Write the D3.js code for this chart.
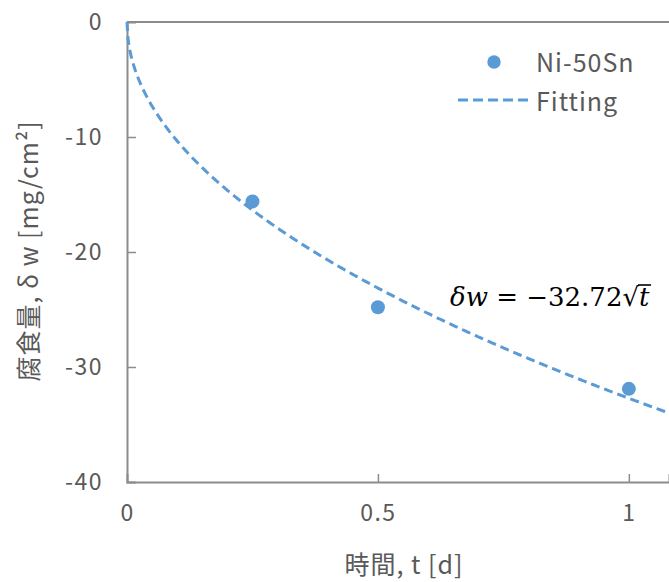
<!DOCTYPE html>
<html>
<head>
<meta charset="utf-8">
<script src="https://cdn.jsdelivr.net/npm/d3@7"></script>
<style>
  html, body { margin: 0; padding: 0; background: #fff; }
  svg { display: block; }
</style>
</head>
<body>
<svg id="chart" width="669" height="582"></svg>
<script>
// Measured corrosion loss of Ni-50Sn
const times = [0.25, 0.5, 1];
const losses = [-15.6, -24.8, -31.9];
// Parabolic fit: δw = k·√t
const fitCoef = -32.72;
const xTicks = [0, 0.5, 1];
const xTickLabels = ["0", "0.5", "1"];
const yTicks = [0, -10, -20, -30, -40];
const yTickLabels = ["0", "-10", "-20", "-30", "-40"];
const seriesNames = ["Ni-50Sn", "Fitting"];

const plotLeft = 127, plotTop = 22, plotBottom = 482, plotRight = 669;
const xMax = 1.08;
const blue = "#5b9bd5";
const axisGray = "#8c8c8c";
const textGray = "#595959";
const font = "'Noto Sans CJK JP', 'Noto Sans', sans-serif";

const svg = d3.select("#chart");

const x = d3.scaleLinear().domain([0, xMax]).range([plotLeft, plotRight]);
const y = d3.scaleLinear().domain([-40, 0]).range([plotBottom, plotTop]);

// Axes with inward ticks
const xAxis = d3.axisBottom(x).tickValues(xTicks).tickSize(-8)
  .tickFormat((d, i) => xTickLabels[i]).tickPadding(23);
const yAxis = d3.axisLeft(y).tickValues(yTicks).tickSize(-9)
  .tickFormat((d, i) => yTickLabels[i]).tickPadding(24);

const gx = svg.append("g").attr("transform", `translate(0,${plotBottom})`).call(xAxis);
const gy = svg.append("g").attr("transform", `translate(${plotLeft},0)`).call(yAxis);
[gx, gy].forEach(g => {
  g.select(".domain").attr("stroke", axisGray).attr("stroke-width", 2);
  g.selectAll(".tick line").attr("stroke", axisGray).attr("stroke-width", 1.5);
  g.selectAll(".tick text").attr("fill", textGray)
    .attr("font-family", font).attr("font-size", 23)
    .attr("letter-spacing", 1.5);
});
// Remove end ticks that coincide with the frame
gy.selectAll(".tick line").filter(d => d === 0 || d === -40).remove();
gx.selectAll(".tick line").filter(d => d === 0).remove();

// Top frame line
svg.append("line")
  .attr("x1", x(0)).attr("x2", plotRight)
  .attr("y1", y(0)).attr("y2", y(0))
  .attr("stroke", axisGray).attr("stroke-width", 2);

// Fitted curve
const fitPts = d3.range(0, xMax + 0.0001, 0.002).map(t => [t, fitCoef * Math.sqrt(t)]);
svg.append("path")
  .datum(fitPts)
  .attr("d", d3.line().x(d => x(d[0])).y(d => y(d[1])))
  .attr("fill", "none")
  .attr("stroke", blue)
  .attr("stroke-width", 3)
  .attr("stroke-dasharray", "9,5");

// Measured points
svg.append("g").selectAll("circle")
  .data(times.map((t, i) => [t, losses[i]]))
  .join("circle")
  .attr("cx", d => x(d[0]))
  .attr("cy", d => y(d[1]))
  .attr("r", 7)
  .attr("fill", blue);

// Legend
const lg = svg.append("g");
lg.append("circle").attr("cx", 494).attr("cy", 62).attr("r", 6.7).attr("fill", blue);
lg.append("line").attr("x1", 458).attr("x2", 529).attr("y1", 100).attr("y2", 100)
  .attr("stroke", blue).attr("stroke-width", 3).attr("stroke-dasharray", "10,5");
lg.selectAll("text").data(seriesNames).join("text")
  .attr("x", 536).attr("y", (d, i) => 72 + i * 39)
  .attr("fill", textGray).attr("font-family", font).attr("font-size", 25)
  .attr("letter-spacing", 1)
  .text(d => d);

// Fit equation
const eq = svg.append("text")
  .attr("x", 450).attr("y", 306)
  .attr("font-family", "'DejaVu Serif', 'Liberation Serif', serif")
  .attr("font-size", 26).attr("fill", "#000");
eq.append("tspan").attr("font-style", "italic").text("δw");
eq.append("tspan").text(" = −32.72");
eq.append("tspan").text("√");
const radicand = eq.append("tspan").attr("font-style", "italic").text("t");
// Vinculum over the radicand
const rb = radicand.node().getBBox();
svg.append("line")
  .attr("x1", rb.x - 1).attr("x2", rb.x + rb.width + 1)
  .attr("y1", rb.y + 3).attr("y2", rb.y + 3)
  .attr("stroke", "#000").attr("stroke-width", 1.6);

// Axis titles (centred on the full plot area)
svg.append("text")
  .attr("x", 404).attr("y", 574)
  .attr("text-anchor", "middle")
  .attr("fill", textGray).attr("font-family", font).attr("font-size", 25)
  .attr("letter-spacing", 1)
  .text("時間, t [d]");

svg.append("text")
  .attr("transform", `translate(38,251) rotate(-90)`)
  .attr("text-anchor", "middle")
  .attr("fill", textGray).attr("font-family", font).attr("font-size", 25)
  .attr("letter-spacing", 1)
  .text("腐食量, δ w [mg/cm²]");
</script>
</body>
</html>
